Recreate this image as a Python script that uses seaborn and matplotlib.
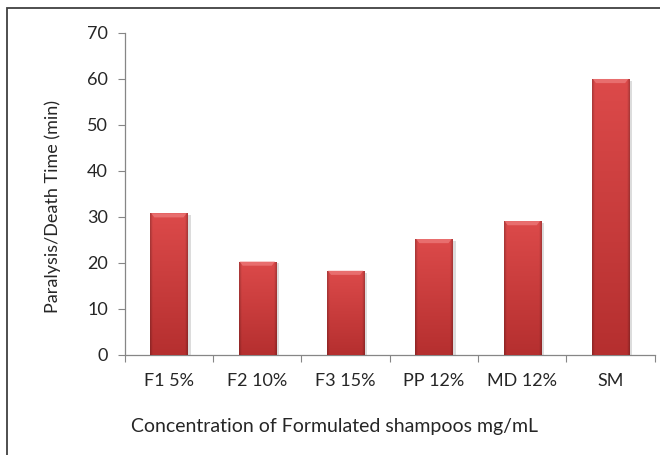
import matplotlib.pyplot as plt
import matplotlib.patches as mpatches
import numpy as np
import pandas as pd
import seaborn as sns
from matplotlib.colors import to_rgb

categories = ['F1 5%', 'F2 10%', 'F3 15%', 'PP 12%', 'MD 12%', 'SM']
death_time = [30.8, 20.3, 18.3, 25.2, 29.1, 60.0]
y_ticks = [0, 10, 20, 30, 40, 50, 60, 70]

df = pd.DataFrame({'group': categories, 'time': death_time})

sns.set_style('white')
plt.rcParams['font.family'] = ['Lato', 'DejaVu Sans']

fig = plt.figure(figsize=(6.6, 4.55), dpi=100)
ax = fig.add_axes([0.189, 0.22, 0.803, 0.7075])

sns.barplot(data=df, x='group', y='time', color='#c43838', width=0.42,
            saturation=1, ax=ax, zorder=2)

# shading: lighter at the top, darker toward the bottom and at the sides
top_c = np.array(to_rgb('#dc4a4a'))
bot_c = np.array(to_rgb('#b52f2f'))
for bar in ax.patches:
    x0, y0 = bar.get_x(), bar.get_y()
    w, h = bar.get_width(), bar.get_height()
    ny, nx = 100, 60
    t = np.linspace(1, 0, ny)[:, None, None]
    img = bot_c * (1 - t) + top_c * t
    xs = np.linspace(0, 1, nx)
    edge = np.minimum(xs, 1 - xs)
    side = 0.78 + 0.22 * np.clip(edge / 0.07, 0, 1)
    img = np.clip(img * side[None, :, None], 0, 1)
    # shadow on the right
    ax.add_patch(mpatches.Rectangle((x0 + w, y0), 0.035, h - 0.4,
                                    color='#dcdcdc', lw=0, zorder=1))
    im = ax.imshow(img, aspect='auto', origin='upper',
                   extent=(x0, x0 + w, y0, y0 + h), zorder=3)
    im.set_clip_path(bar)
    # light bevel along the top with chamfered corners
    d = 0.045
    bh = 0.9
    ax.add_patch(mpatches.Polygon(
        [(x0 + 0.01, y0 + h), (x0 + w - 0.01, y0 + h),
         (x0 + w - d, y0 + h - bh), (x0 + d, y0 + h - bh)],
        closed=True, color='#ec7878', lw=0, alpha=0.8, zorder=4))
    bar.set_edgecolor('#8e1c1c')
    bar.set_linewidth(0.6)

ax.set_xlim(-0.5, len(categories) - 0.5)
ax.set_ylim(0, 70)
ax.set_yticks(y_ticks)
ax.set_xticks(np.arange(len(categories)))
ax.set_xticklabels(categories)
ax.set_xticks(np.arange(len(categories) + 1) - 0.5, minor=True)
ax.tick_params(axis='x', which='major', length=0, pad=13, labelsize=13)
ax.tick_params(axis='x', which='minor', length=5, width=0.8, color='#868686',
               direction='out', bottom=True)
ax.tick_params(axis='y', length=5, width=0.8, color='#868686', direction='out',
               left=True, pad=7, labelsize=13)

sns.despine(ax=ax)
for side_name in ['left', 'bottom']:
    ax.spines[side_name].set_color('#868686')
    ax.spines[side_name].set_linewidth(0.9)

ax.set_xlabel('Concentration of Formulated shampoos mg/mL', fontsize=14)
ax.set_ylabel('Paralysis/Death Time (min)', fontsize=13)
# the original centres the titles on the chart area, not on the plot area
ax.xaxis.set_label_coords(0.396, -0.195)
ax.yaxis.set_label_coords(-0.121, 0.46)

# outer frame, cut off at the right and bottom like the original
fig.add_artist(mpatches.Rectangle((7 / 660, -0.1), 1.2, 1.1 - 8 / 455,
                                  transform=fig.transFigure, fill=False,
                                  edgecolor='#404040', lw=1.3))

fig.savefig('out.png', dpi=100)
